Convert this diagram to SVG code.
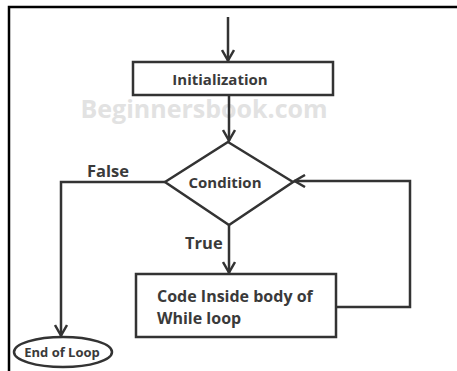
<svg xmlns="http://www.w3.org/2000/svg" width="457" height="371" viewBox="0 0 457 371">
<defs>
<style>
.ln{fill:none;stroke:#333;stroke-width:2.5}
.shape{fill:#fff;stroke:#333;stroke-width:2.5}
.t{font-family:"Open Sans","Noto Sans",sans-serif;font-weight:bold;fill:#3a3a3a}
</style>
<marker id="v" viewBox="0 0 13 14" refX="12" refY="7" markerWidth="13" markerHeight="14" markerUnits="userSpaceOnUse" orient="auto">
<path d="M1,1 L11.5,7 L1,13" fill="none" stroke="#333" stroke-width="2.5"/>
</marker>
</defs>
<rect width="457" height="371" fill="#fff"/>
<path d="M9,371 V7 H457" fill="none" stroke="#000" stroke-width="2.5"/>
<text x="204" y="118" text-anchor="middle" font-family="Open Sans, sans-serif" font-weight="bold" font-size="25" fill="#e2e2e2">Beginnersbook.com</text>
<g id="connectors">
<line class="ln" x1="228" y1="17" x2="228" y2="61" marker-end="url(#v)"/>
<line class="ln" x1="229" y1="95" x2="229" y2="141" marker-end="url(#v)"/>
<polyline class="ln" points="165,182 61,182 61,336" marker-end="url(#v)"/>
<line class="ln" x1="229" y1="225" x2="229" y2="273" marker-end="url(#v)"/>
<polyline class="ln" points="337,307 410,307 410,181 294,181" marker-end="url(#v)"/>
</g>
<g id="init">
<rect class="shape" x="133" y="62" width="200" height="33"/>
<text class="t" x="220" y="85" text-anchor="middle" font-size="15">Initialization</text>
</g>
<g id="condition">
<polygon class="shape" points="228,142 293,182 229,225 165,182"/>
<text class="t" x="225" y="188" text-anchor="middle" font-size="15">Condition</text>
</g>
<g id="labels">
<text class="t" x="87" y="177" font-size="16.5">False</text>
<text class="t" x="185" y="249" font-size="16.5">True</text>
</g>
<g id="body">
<rect class="shape" x="136" y="274" width="200" height="63"/>
<text class="t" x="157" y="302" font-size="16">Code Inside body of</text>
<text class="t" x="157" y="324" font-size="16">While loop</text>
</g>
<g id="end">
<ellipse class="shape" cx="63" cy="352" rx="49" ry="15"/>
<text class="t" x="62" y="357" text-anchor="middle" font-size="13">End of Loop</text>
</g>
</svg>
